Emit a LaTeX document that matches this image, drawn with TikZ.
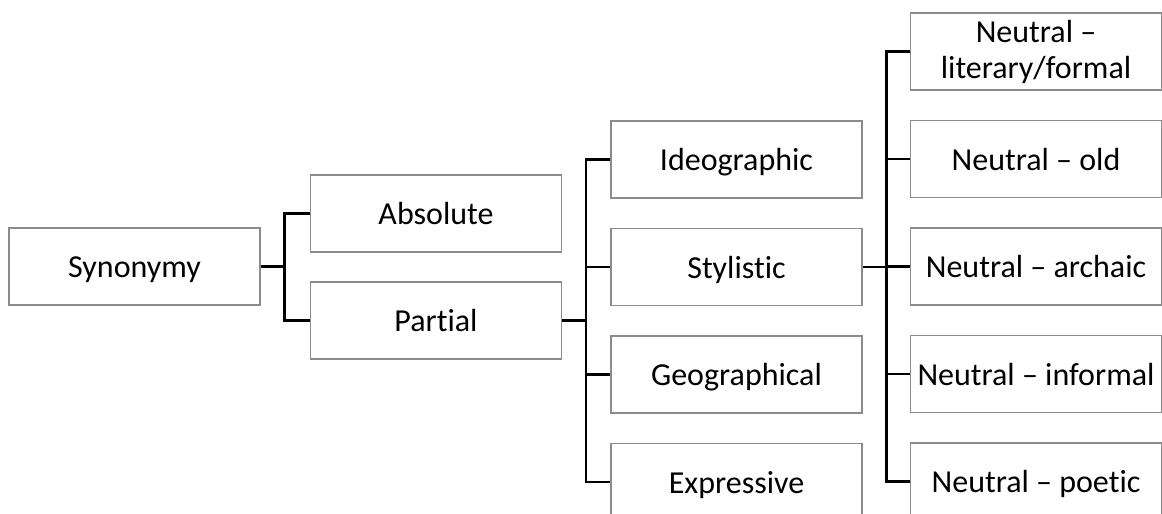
\documentclass[tikz,border=0pt]{standalone}
\usepackage{fontspec}
\setmainfont{Carlito}[Ligatures=NoCommon]
\usetikzlibrary{calc,positioning}

\tikzset{
    box/.style={draw=black!45, line width=1.2pt, rectangle, minimum width=251pt, minimum height=77pt, inner sep=0pt, align=center, text height=26pt, text depth=4pt, font=\fontsize{32}{36}\selectfont},
    twoline/.style={text height=60pt, text depth=6pt},
    link/.style={draw=black, line width=2.6pt}
}

\begin{document}
\begin{tikzpicture}[x=1pt,y=-1pt]
        \clip (0,0) rectangle (1162,514);
        % Root and first split
        \node[box] (syn) at (134.5,266.5) {Synonymy};
        \node[box] (abs) at (436,213.5) {Absolute};
        \node[box] (par) at (436,320.5) {Partial};
        % Kinds of partial synonyms
        \foreach \name/\txt [count=\i] in {ideo/Ideographic, sty/Stylistic, geo/Geographical, expr/Expressive} {
            \node[box] (\name) at (736.5,52+107.5*\i) {\txt};
        }
        % Stylistic pairs
        \foreach \name/\txt/\extra [count=\i] in {lit/{Neutral --\\literary/formal}/twoline, old/Neutral -- old/, arch/Neutral -- archaic/, inf/Neutral -- informal/, poet/Neutral -- poetic/} {
            \node[box,\extra] (\name) at (1036,-56+107.5*\i) {\txt};
        }
        % Junctions
        \coordinate (j1) at ($(syn.east)+(24,0)$);
        \coordinate (j2) at ($(par.east)+(24,0)$);
        \coordinate (j3) at ($(sty.east)+(24,0)$);
        % Connectors
        \draw[link] (syn.east) -- (j1);
        \draw[link] (abs.west) -| (j1) |- (par.west);
        \draw[link] (par.east) -- (j2);
        \draw[link] (ideo.west) -| (j2) |- (expr.west);
        \foreach \name in {sty,geo} {
            \draw[link] (j2 |- \name.west) -- (\name.west);
        }
        \draw[link] (sty.east) -- (j3);
        \draw[link] (lit.west) -| (j3) |- (poet.west);
        \foreach \name in {old,arch,inf} {
            \draw[link] (j3 |- \name.west) -- (\name.west);
        }
    \end{tikzpicture}
\end{document}
